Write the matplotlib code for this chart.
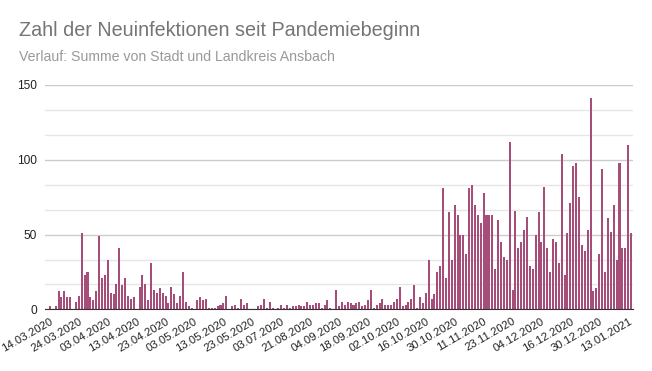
import matplotlib
matplotlib.use('Agg')
from matplotlib import pyplot as plt
import numpy as np

# daily new infections (Stadt + Landkreis Ansbach)
cases = [2, 0, 2, 12, 8, 12, 8, 8, 0, 5,
         9, 51, 23, 25, 8, 6, 12, 49, 21, 23,
         33, 11, 10, 17, 41, 16, 21, 9, 7, 8,
         0, 15, 23, 17, 6, 31, 13, 11, 14, 11,
         9, 4, 15, 10, 4, 9, 25, 5, 2, 1,
         0, 6, 8, 6, 7, 1, 1, 1, 2, 3,
         4, 9, 0, 2, 3, 1, 7, 3, 4, 0,
         0, 0, 2, 3, 7, 1, 5, 1, 0, 1,
         3, 1, 3, 1, 2, 2, 3, 2, 2, 5,
         3, 3, 4, 4, 1, 3, 6, 1, 0, 13,
         2, 5, 3, 5, 4, 3, 4, 5, 2, 3,
         6, 13, 1, 3, 4, 7, 3, 3, 3, 5,
         7, 15, 2, 3, 5, 7, 16, 1, 8, 4,
         11, 33, 7, 10, 25, 29, 81, 21, 65, 33,
         70, 63, 50, 50, 37, 81, 83, 70, 63, 58,
         78, 63, 63, 63, 27, 60, 45, 35, 33, 112,
         13, 66, 41, 45, 53, 62, 29, 27, 50, 65,
         45, 82, 41, 25, 47, 45, 31, 104, 23, 51,
         71, 96, 98, 75, 43, 39, 53, 141, 12, 14,
         37, 94, 25, 61, 52, 70, 33, 98, 41, 41,
         110, 51]

# every 10th category gets a label
tick_labels = ['14.03.2020', '24.03.2020', '03.04.2020', '13.04.2020', '23.04.2020',
               '03.05.2020', '13.05.2020', '23.05.2020', '03.07.2020', '21.08.2020',
               '04.09.2020', '18.09.2020', '02.10.2020', '16.10.2020', '30.10.2020',
               '11.11.2020', '23.11.2020', '04.12.2020', '16.12.2020', '30.12.2020',
               '13.01.2021']

plt.rcParams['font.family'] = ['Liberation Sans', 'DejaVu Sans']

fig = plt.figure(figsize=(6.52, 3.71), dpi=100)
ax = fig.add_axes([0.069, 0.166, 0.902, 0.605])

x = np.arange(len(cases))
ax.bar(x, cases, width=0.7, color='#a64d79', zorder=3)

ax.set_ylim(0, 150)
ax.set_xlim(-1.7, len(cases) - 0.3)

# gridlines: major every 50, two minor in between
ax.set_yticks([0, 50, 100, 150])
ax.set_yticks([50 / 3 * k for k in range(1, 9) if k % 3 != 0], minor=True)
ax.grid(axis='y', which='major', color='#cccccc', linewidth=1, zorder=0)
ax.grid(axis='y', which='minor', color='#e6e6e6', linewidth=1, zorder=0)
ax.tick_params(axis='y', which='both', length=0, labelsize=8.6, labelcolor='#222222', pad=6)

ax.set_xticks(x[::10])
ax.set_xticklabels(tick_labels, rotation=30, ha='right', va='top',
                   rotation_mode='anchor', fontsize=8.2, color='#222222')
ax.tick_params(axis='x', length=0, pad=5)

for s in ['top', 'right', 'left']:
    ax.spines[s].set_visible(False)
ax.spines['bottom'].set_color('#333333')
ax.spines['bottom'].set_zorder(4)

fig.text(0.029, 1 - 30 / 371, 'Zahl der Neuinfektionen seit Pandemiebeginn',
         fontsize=14.2, color='#757575', va='center')
fig.text(0.029, 1 - 57 / 371, 'Verlauf: Summe von Stadt und Landkreis Ansbach',
         fontsize=10.2, color='#999999', va='center')

fig.savefig('out.png', dpi=100)
